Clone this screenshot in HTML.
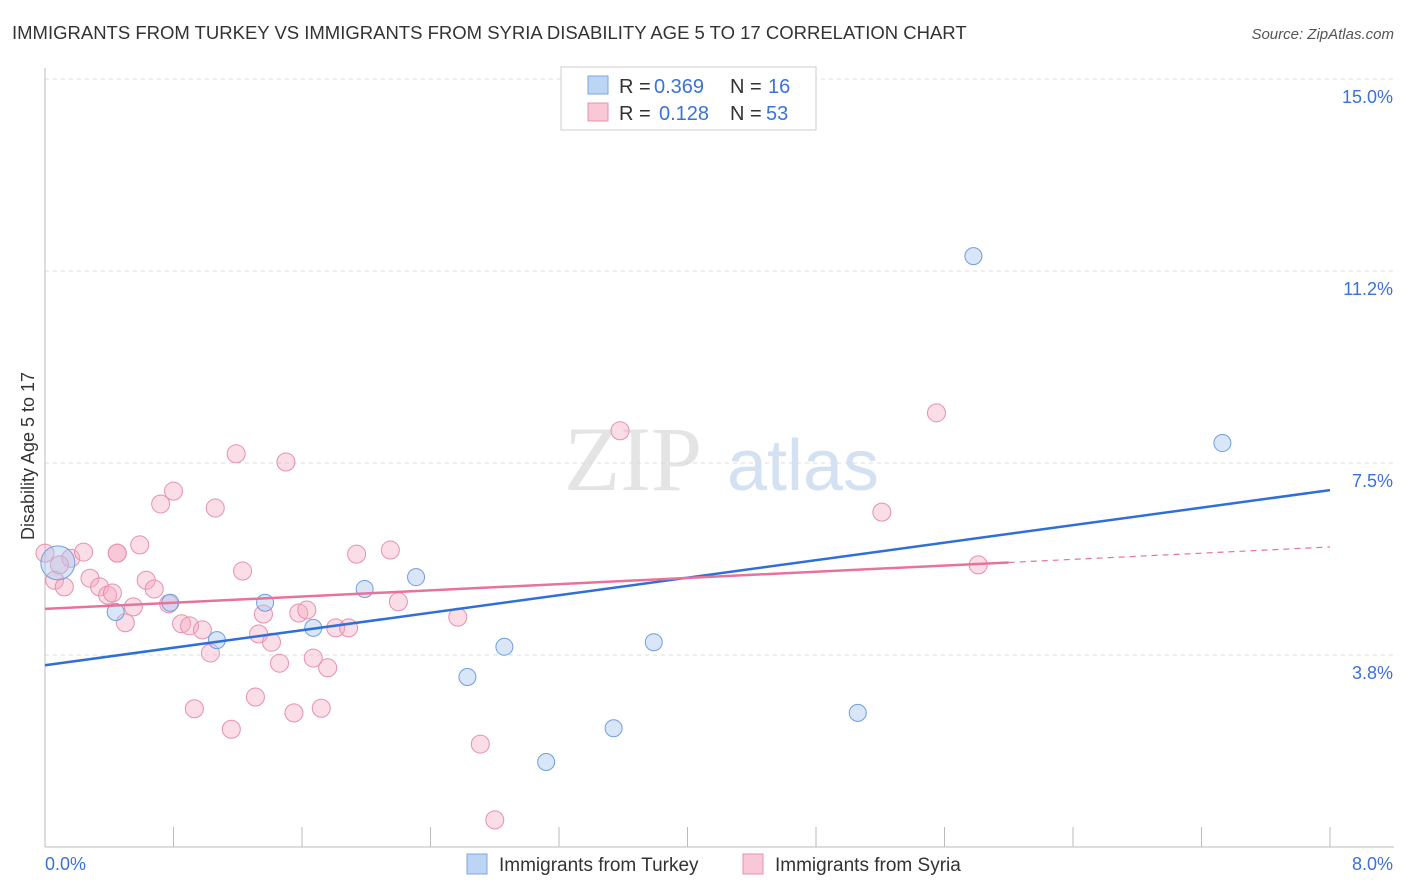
<!DOCTYPE html>
<html><head><meta charset="utf-8"><style>
body{margin:0;background:#fff;font-family:"Liberation Sans",sans-serif}
svg{display:block}
</style></head><body>
<svg id="chart" width="1406" height="892" xmlns="http://www.w3.org/2000/svg">
<text x="12" y="39" font-size="18.5" fill="#333">IMMIGRANTS FROM TURKEY VS IMMIGRANTS FROM SYRIA DISABILITY AGE 5 TO 17 CORRELATION CHART</text>
<text x="1394" y="39" font-size="15" fill="#555" font-style="italic" text-anchor="end">Source: ZipAtlas.com</text>
<text x="633" y="490" font-size="92" fill="#e4e4e4" font-family="Liberation Serif" text-anchor="middle">ZIP</text>
<text x="803" y="490" font-size="72" fill="#d3e1f3" text-anchor="middle">atlas</text>
<text transform="translate(34,456) rotate(-90)" font-size="18" fill="#333" text-anchor="middle">Disability Age 5 to 17</text>
<g id="grid"></g><g id="pts"></g><g id="lines"></g>
<g>
<rect x="561" y="67" width="255" height="63" fill="#fff" stroke="#ccc"/>
<rect x="588" y="76" width="20" height="18" fill="#bcd5f5" stroke="#7aa6e0"/>
<rect x="588" y="103" width="20" height="18" fill="#f9c8d7" stroke="#e890ac"/>
<text x="619" y="93" font-size="20" fill="#333">R =</text><text x="654" y="93" font-size="20" fill="#3a72d8">0.369</text>
<text x="730" y="93" font-size="20" fill="#333">N =</text><text x="768" y="93" font-size="20" fill="#3a72d8">16</text>
<text x="619" y="120" font-size="20" fill="#333">R =</text><text x="659" y="120" font-size="20" fill="#3a72d8">0.128</text>
<text x="730" y="120" font-size="20" fill="#333">N =</text><text x="766" y="120" font-size="20" fill="#3a72d8">53</text>
</g>
<g>
<rect x="467" y="854" width="20" height="20" fill="#bcd5f5" stroke="#7aa6e0"/>
<text x="499" y="871" font-size="19" fill="#333">Immigrants from Turkey</text>
<rect x="743" y="854" width="20" height="20" fill="#f9c8d7" stroke="#e890ac"/>
<text x="775" y="871" font-size="19" fill="#333">Immigrants from Syria</text>
</g>
<text x="45" y="870" font-size="18" fill="#3a72d8">0.0%</text>
<text x="1393" y="870" font-size="18" fill="#3a72d8" text-anchor="end">8.0%</text>
</svg>
<script>
const yTicks=[3.75,7.5,11.25,15];
const yTickLabels=["3.8%","7.5%","11.2%","15.0%"];
const turkeyX=[0.08,0.44,0.78,1.07,1.37,1.67,1.99,2.31,2.63,2.86,3.12,3.54,3.79,5.06,5.78,7.33];
const turkeyY=[5.55,4.59,4.77,4.04,4.77,4.28,5.04,5.27,3.32,3.91,1.66,2.32,4.00,2.62,11.54,7.89];
const syriaX=[0.00,0.06,0.12,0.16,0.24,0.28,0.34,0.39,0.42,0.45,0.50,0.55,0.59,0.63,0.68,0.72,0.77,0.80,0.85,0.90,0.93,0.98,1.03,1.06,1.16,1.19,1.23,1.31,1.33,1.36,1.41,1.46,1.50,1.55,1.58,1.63,1.67,1.72,1.76,1.81,1.89,1.94,2.15,2.20,2.57,2.71,2.80,3.58,5.21,5.55,5.81,0.09,0.45];
const syriaY=[5.74,5.21,5.08,5.64,5.76,5.25,5.08,4.92,4.96,5.74,4.38,4.69,5.90,5.21,5.04,6.70,4.75,6.95,4.36,4.32,2.70,4.24,3.79,6.62,2.30,7.68,5.39,2.93,4.16,4.55,4.00,3.59,7.52,2.62,4.57,4.63,3.69,2.71,3.50,4.28,4.28,5.72,5.80,4.79,4.49,2.01,0.53,8.13,6.54,8.48,5.51,5.51,5.74];
const turkeyTrend=[3.55,6.97];
const syriaTrend=[4.65,5.86];
const NS="http://www.w3.org/2000/svg";
const X=v=>45+v*160.625, Y=v=>847-v*51.2;
function mk(t,a,p){const e=document.createElementNS(NS,t);for(const k in a)e.setAttribute(k,a[k]);p.appendChild(e);return e;}
const grid=document.getElementById('grid');
yTicks.forEach((t,i)=>{
 const l=mk('line',{x1:45,x2:1394,y1:Y(t),y2:Y(t),stroke:'#ddd','stroke-dasharray':'4,4'},grid);
 
 
 const tx=mk('text',{x:1393,y:Y(t)+24,'font-size':18,fill:'#3a72d8','text-anchor':'end'},grid);
 tx.textContent=yTickLabels[i];
 
 
});
mk('line',{x1:45,x2:45,y1:68,y2:847,stroke:'#bbb'},grid);
mk('line',{x1:45,x2:1394,y1:847,y2:847,stroke:'#bbb'},grid);
for(let i=0;i<=10;i++){const x=X(i*0.8);mk('line',{x1:x,x2:x,y1:827,y2:847,stroke:'#bbb'},grid);}
const pts=document.getElementById('pts');
syriaX.forEach((x,i)=>{
 const c=mk('circle',{cx:X(x),cy:Y(syriaY[i]),r:9,fill:'rgba(246,170,196,0.4)',stroke:'#e890ac','stroke-width':1},pts);
 
 
});
turkeyX.forEach((x,i)=>{
 const c=mk('circle',{cx:X(x),cy:Y(turkeyY[i]),r:i==0?17:8.5,fill:'rgba(168,200,240,0.45)',stroke:'#6f9ee0','stroke-width':1},pts);
 
 
});
const ln=document.getElementById('lines');
const bl=mk('line',{x1:X(0),y1:Y(turkeyTrend[0]),x2:X(8),y2:Y(turkeyTrend[1]),stroke:'#2f6fd6','stroke-width':2.5},ln);


const sAt=v=>syriaTrend[0]+(syriaTrend[1]-syriaTrend[0])*v/8;
const pl=mk('line',{x1:X(0),y1:Y(sAt(0)),x2:X(6),y2:Y(sAt(6)),stroke:'#e8739a','stroke-width':2.5},ln);


const pd=mk('line',{x1:X(6),y1:Y(sAt(6)),x2:X(8),y2:Y(sAt(8)),stroke:'#e8739a','stroke-width':1.2,'stroke-dasharray':'6,5'},ln);


</script>
</body></html>
